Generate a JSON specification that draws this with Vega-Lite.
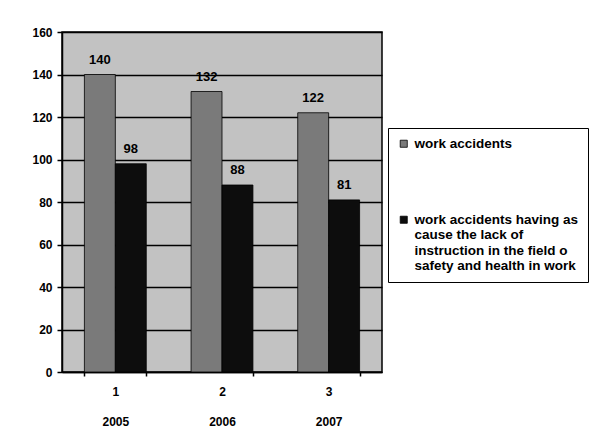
{
  "$schema": "https://vega.github.io/schema/vega-lite/v6.json",
  "width": 320,
  "height": 340,
  "autosize": {"type": "none"},
  "padding": {"left": 62, "top": 32, "right": 214, "bottom": 74},
  "background": "white",
  "config": {
    "font": "Liberation Sans",
    "view": {"fill": "#c2c2c2", "stroke": "#000000", "strokeWidth": 1.5}
  },
  "data": {
    "values": [
      {"grp": "1", "series": "work accidents", "value": 140},
      {"grp": "1", "series": "work accidents having as cause the lack of instruction in the field o safety and health in work", "value": 98},
      {"grp": "2", "series": "work accidents", "value": 132},
      {"grp": "2", "series": "work accidents having as cause the lack of instruction in the field o safety and health in work", "value": 88},
      {"grp": "3", "series": "work accidents", "value": 122},
      {"grp": "3", "series": "work accidents having as cause the lack of instruction in the field o safety and health in work", "value": 81}
    ]
  },
  "encoding": {
    "x": {
      "field": "grp",
      "type": "nominal",
      "scale": {"paddingInner": 0.42, "paddingOuter": 0.21},
      "axis": {
        "title": null,
        "labelAngle": 0,
        "tickBand": "extent",
        "domainColor": "#000",
        "domainWidth": 1.5,
        "tickColor": "#000",
        "tickWidth": 1.5,
        "tickSize": 4,
        "labelFont": "Liberation Sans",
        "labelFontWeight": "bold",
        "labelFontSize": 12,
        "labelColor": "#000",
        "labelPadding": 10,
        "labelLineHeight": 30,
        "labelExpr": "datum.label == '1' ? ['1', '\u00a0\u00a0\u00a0\u00a0\u00a0\u00a0\u00a0\u00a0\u00a02005'] : datum.label == '2' ? ['2', '\u00a0\u00a0\u00a02006'] : datum.label == '3' ? ['3', '2007\u00a0\u00a0\u00a0\u00a0\u00a0\u00a0'] : ''"
      }
    },
    "xOffset": {"field": "series", "type": "nominal"},
    "y": {
      "field": "value",
      "type": "quantitative",
      "scale": {"domain": [0, 160]},
      "axis": {
        "title": null,
        "values": [0, 20, 40, 60, 80, 100, 120, 140, 160],
        "grid": true,
        "gridColor": "#000",
        "gridWidth": 1.5,
        "gridOpacity": 1,
        "domainColor": "#000",
        "domainWidth": 1.5,
        "tickColor": "#000",
        "tickWidth": 1.5,
        "tickSize": 5,
        "labelFont": "Liberation Sans",
        "labelFontWeight": "bold",
        "labelFontSize": 12,
        "labelColor": "#000",
        "labelPadding": 5
      }
    }
  },
  "layer": [
    {
      "mark": {"type": "bar", "stroke": "#000", "strokeWidth": 0.8},
      "encoding": {
        "color": {
          "field": "series",
          "type": "nominal",
          "scale": {"range": ["#7a7a7a", "#0d0d0d"]},
          "legend": {
            "title": null,
            "orient": "none",
            "legendX": 326,
            "legendY": 96,
            "strokeColor": "#000",
            "fillColor": "white",
            "padding": 9,
            "symbolType": "square",
            "symbolSize": 50,
            "symbolStrokeColor": "#000",
            "symbolStrokeWidth": 0.8,
            "labelFont": "Liberation Sans",
            "labelFontSize": 13.5,
            "labelFontWeight": "bold",
            "labelColor": "#000",
            "labelLimit": 300,
            "labelLineHeight": 15,
            "rowPadding": 61,
            "labelExpr": "datum.label == 'work accidents' ? datum.label : ['work accidents having as', 'cause the lack of', 'instruction in the field o', 'safety and health in work']"
          }
        }
      }
    },
    {
      "mark": {"type": "text", "baseline": "middle", "dy": -15, "font": "Liberation Sans", "fontWeight": "bold", "fontSize": 13, "color": "#000"},
      "encoding": {"text": {"field": "value", "type": "quantitative"}}
    }
  ]
}
